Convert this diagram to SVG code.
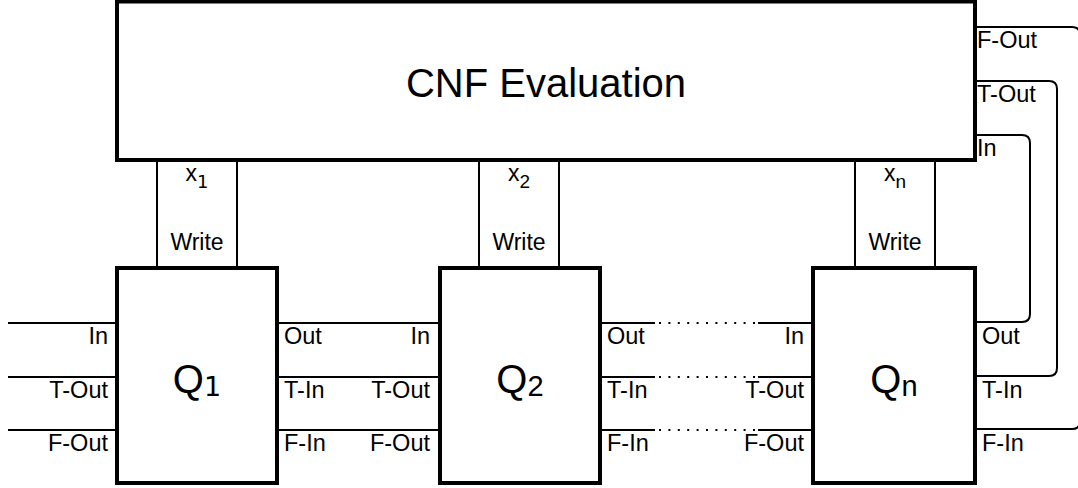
<svg xmlns="http://www.w3.org/2000/svg" width="1078" height="488" viewBox="0 0 1078 488">
<style>
.box{fill:#fff;stroke:#000;stroke-width:4}
.wbox{fill:#fff;stroke:#000;stroke-width:2}
.ln{fill:none;stroke:#000;stroke-width:2}
.dot{fill:none;stroke:#000;stroke-width:2;stroke-dasharray:2 7.4}
text{font-family:"Liberation Sans",Arial,sans-serif;fill:#000}
.pl{font-size:23.5px}
.pr{font-size:23.5px;text-anchor:end}
.c{text-anchor:middle}
.dv{font-family:"DejaVu Sans",sans-serif}
</style>
<rect width="1078" height="488" fill="#fff"/>
<g id="connectors">
<line class="ln" x1="8" y1="323" x2="117" y2="323"/>
<line class="ln" x1="8" y1="377" x2="117" y2="377"/>
<line class="ln" x1="8" y1="430" x2="117" y2="430"/>
<line class="ln" x1="277" y1="323" x2="440" y2="323"/>
<line class="ln" x1="277" y1="377" x2="440" y2="377"/>
<line class="ln" x1="277" y1="430" x2="440" y2="430"/>
<line class="ln" x1="600" y1="323" x2="655" y2="323"/>
<line class="ln" x1="600" y1="377" x2="655" y2="377"/>
<line class="ln" x1="600" y1="430" x2="655" y2="430"/>
<line class="dot" x1="659" y1="323" x2="755" y2="323"/>
<line class="dot" x1="659" y1="377" x2="755" y2="377"/>
<line class="dot" x1="659" y1="430" x2="755" y2="430"/>
<line class="ln" x1="758" y1="323" x2="813" y2="323"/>
<line class="ln" x1="758" y1="377" x2="813" y2="377"/>
<line class="ln" x1="758" y1="430" x2="813" y2="430"/>
<path class="ln" d="M975 322 H1022 Q1030 322 1030 314 V143 Q1030 135 1022 135 H975"/>
<path class="ln" d="M975 376 H1049 Q1057 376 1057 368 V89 Q1057 81 1049 81 H975"/>
<path class="ln" d="M975 429 H1072 Q1080 429 1080 421 V35 Q1080 27 1072 27 H975"/>
</g>
<g id="write1">
<rect class="wbox" x="157" y="160" width="80" height="108"/>
<text x="197" y="181" class="c" font-size="23">x<tspan class="dv" font-size="18" dy="7">1</tspan></text>
<text x="197" y="250" class="c" font-size="23">Write</text>
</g>
<g id="write2">
<rect class="wbox" x="479" y="160" width="80" height="108"/>
<text x="519" y="181" class="c" font-size="23">x<tspan font-size="19" dy="7">2</tspan></text>
<text x="519" y="250" class="c" font-size="23">Write</text>
</g>
<g id="writen">
<rect class="wbox" x="855" y="160" width="80" height="108"/>
<text x="895" y="181" class="c" font-size="23">x<tspan font-size="19" dy="7">n</tspan></text>
<text x="895" y="250" class="c" font-size="23">Write</text>
</g>
<g id="cnf">
<rect class="box" x="117" y="1.5" width="858" height="158.5"/>
<text x="546" y="97" class="c" font-size="40">CNF Evaluation</text>
<text x="977" y="48" class="pl">F-Out</text>
<text x="977" y="102" class="pl">T-Out</text>
<text x="977" y="156" class="pl">In</text>
</g>
<g id="q1">
<rect class="box" x="117" y="268" width="160" height="215"/>
<text x="197" y="393" class="c" font-size="40">Q<tspan class="dv" font-size="27" dy="3">1</tspan></text>
<text x="108" y="344" class="pr">In</text>
<text x="108" y="398" class="pr">T-Out</text>
<text x="108" y="451" class="pr">F-Out</text>
<text x="284" y="344" class="pl">Out</text>
<text x="284" y="398" class="pl">T-In</text>
<text x="284" y="451" class="pl">F-In</text>
</g>
<g id="q2">
<rect class="box" x="440" y="268" width="160" height="215"/>
<text x="520" y="393" class="c" font-size="40">Q<tspan font-size="29" dy="3">2</tspan></text>
<text x="430" y="344" class="pr">In</text>
<text x="430" y="398" class="pr">T-Out</text>
<text x="430" y="451" class="pr">F-Out</text>
<text x="607" y="344" class="pl">Out</text>
<text x="607" y="398" class="pl">T-In</text>
<text x="607" y="451" class="pl">F-In</text>
</g>
<g id="qn">
<rect class="box" x="813" y="268" width="162" height="215"/>
<text x="894" y="393" class="c" font-size="40">Q<tspan font-size="29" dy="3">n</tspan></text>
<text x="804" y="344" class="pr">In</text>
<text x="804" y="398" class="pr">T-Out</text>
<text x="804" y="451" class="pr">F-Out</text>
<text x="982" y="344" class="pl">Out</text>
<text x="982" y="398" class="pl">T-In</text>
<text x="982" y="451" class="pl">F-In</text>
</g>
</svg>
